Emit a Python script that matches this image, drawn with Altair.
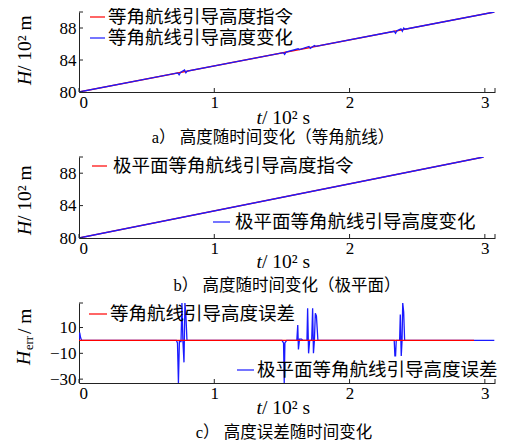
import altair as alt
import pandas as pd

# ---------------- data ----------------
# panel a: rhumb-line guidance altitude (x100 s, x100 m)
a_cmd_t = [0.0, 3.07]
a_cmd_h = [80.0, 90.0]
a_act_t = [0.0, 0.73, 0.74, 0.75, 0.78, 0.79, 0.80, 1.51, 1.52, 1.53, 1.62, 1.63,
           1.70, 1.71, 1.74, 1.75, 2.33, 2.34, 2.35, 2.38, 2.39, 2.40, 2.41, 3.07]
a_act_h = [80.0, 82.38, 82.15, 82.44, 82.75, 82.40, 82.61, 84.92, 84.70, 84.98, 85.40, 85.31,
           85.70, 85.45, 85.82, 85.70, 87.59, 87.35, 87.65, 87.90, 87.60, 88.00, 87.85, 90.0]

# panel b: polar-plane rhumb-line guidance altitude
b_cmd_t = [0.0, 2.99]
b_cmd_h = [80.0, 90.0]
b_act_t = [0.0, 2.99]
b_act_h = [80.0, 90.0]

# panel c: altitude error (m)
c_cmd_t = [0.0, 2.92]
c_cmd_e = [0.0, 0.0]
c_act_t = [0.0, 0.005, 0.012, 0.02,
           0.72, 0.728, 0.735, 0.742, 0.754, 0.761, 0.768, 0.776, 0.783, 0.79, 0.798, 0.835,
           1.50, 1.512, 1.517, 1.522, 1.535,
           1.61, 1.617, 1.622, 1.63, 1.645, 1.655,
           1.685, 1.69, 1.697, 1.705, 1.72, 1.727, 1.733, 1.74, 1.747, 1.755, 1.766,
           2.33, 2.335, 2.34, 2.345, 2.37, 2.375, 2.382, 2.388, 2.393, 2.40, 2.407,
           3.07]
c_act_e = [0, 6, 2, 0,
           0, -2, -33, -1, -1, 29, 0, -17, 29, 20, 0, 0,
           0, -2, -33, -2, 0,
           0, 12, -7, 1, 1, 0,
           0, 25, -10, 0, 0, 25, -10, 0, 21, 19, 0,
           0, -12, -12, 0, 0, 20, -12, 0, 29, 22, 0,
           0]

x_ticks = [0, 1, 2, 3]
x_max = 3.075
h_ticks = [80, 84, 88]
h_dom = [80, 90]
e_ticks = [-30, -10, 10]
e_dom = [-33, 29]

legend_a = ["等角航线引导高度指令", "等角航线引导高度变化"]
legend_b = ["极平面等角航线引导高度指令", "极平面等角航线引导高度变化"]
legend_c = ["等角航线引导高度误差", "极平面等角航线引导高度误差"]
captions = ["a） 高度随时间变化（等角航线）", "b） 高度随时间变化（极平面）", "c） 高度误差随时间变化"]

RED = "#ff0000"
BLUE = "#1a1aff"
SERIF = "Liberation Serif"
CJK = "Noto Sans CJK SC"
W = 416
ONE = alt.Data(values=[{}])


def txt(s, x, y, size, font, angle=0, align="center", style="normal"):
    return alt.Chart(ONE).mark_text(
        text=s, font=font, fontSize=size, align=align, baseline="middle",
        angle=angle, fontStyle=style, color="black"
    ).encode(x=alt.value(x), y=alt.value(y))


def leg_entry(label, color, x0, x1, y, tx):
    r = alt.Chart(ONE).mark_rule(color=color, strokeWidth=1.2).encode(
        x=alt.value(x0), x2=alt.value(x1), y=alt.value(y))
    t = txt(label, tx, y, 18.5, CJK, align="left")
    return [r, t]


def panel(H, ydom, yticks, series, legends, ytitle, xt_y, cap, cap_x, cap_y):
    xs = alt.Scale(domain=[0, x_max], nice=False, zero=False)
    ys = alt.Scale(domain=ydom, nice=False, zero=False)
    xax = alt.Axis(values=x_ticks, title=None, format="d")
    yax = alt.Axis(values=yticks, title=None, format="d")
    layers = []
    for (t, v, color) in series:
        df = pd.DataFrame({"t": t, "v": v})
        layers.append(alt.Chart(df).mark_line(color=color, strokeWidth=1.3, clip=True)
                      .encode(x=alt.X("t:Q", scale=xs, axis=xax),
                              y=alt.Y("v:Q", scale=ys, axis=yax)))
    # inward tick marks (MATLAB style)
    xt = pd.DataFrame({"t": x_ticks + [x_max]})
    layers.append(alt.Chart(xt).mark_rule(color="#222", strokeWidth=1).encode(
        x=alt.X("t:Q", scale=xs, axis=xax), y=alt.value(H), y2=alt.value(H - 4)))
    yt = pd.DataFrame({"v": yticks + [ydom[1]]})
    layers.append(alt.Chart(yt).mark_rule(color="#222", strokeWidth=1).encode(
        y=alt.Y("v:Q", scale=ys, axis=yax), x=alt.value(0), x2=alt.value(4)))
    # legends
    for lg in legends:
        layers += leg_entry(*lg)
    # y title
    layers += ytitle
    # x title
    layers.append(txt("t", 183, H + xt_y, 19.5, SERIF, align="right", style="italic"))
    layers.append(txt(" / 10²  s", 183, H + xt_y, 19.5, SERIF, align="left"))
    # caption
    layers.append(txt(cap, cap_x, H + cap_y, 16.5, SERIF + ", " + CJK))
    return alt.layer(*layers).properties(width=W, height=H)


def h_title(anchor):
    return [txt("H", -54, anchor, 19.5, SERIF, angle=270, align="right", style="italic"),
            txt(" / 10²  m", -54, anchor, 19.5, SERIF, angle=270, align="left")]


pa = panel(80, h_dom, h_ticks,
           [(a_cmd_t, a_cmd_h, RED), (a_act_t, a_act_h, BLUE)],
           [(legend_a[0], RED, 11, 26, 5, 29), (legend_a[1], BLUE, 11, 26, 26, 29)],
           h_title(59), 26, captions[0], 194, 46)

pb = panel(81, h_dom, h_ticks,
           [(b_cmd_t, b_cmd_h, RED), (b_act_t, b_act_h, BLUE)],
           [(legend_b[0], RED, 13, 28, 9, 34), (legend_b[1], BLUE, 134, 151, 65, 156)],
           h_title(64), 24, captions[1], 208, 48)

c_title = [txt("H", -55, 48, 19.5, SERIF, angle=270, align="right", style="italic"),
           txt("err", -50, 47, 12.5, SERIF, angle=270, align="left"),
           txt(" / m", -54, 31, 19.5, SERIF, angle=270, align="left")]

pc = panel(80, e_dom, e_ticks,
           [(c_act_t, c_act_e, BLUE), (c_cmd_t, c_cmd_e, RED)],
           [(legend_c[0], RED, 10, 28, 11, 31), (legend_c[1], BLUE, 158, 175, 67, 178)],
           c_title, 25, captions[2], 205, 50)

chart = alt.vconcat(pa, pb, pc, spacing=65, bounds="flush").properties(
    padding={"left": 6, "top": 0, "right": 0, "bottom": 0}
).configure_view(stroke=None).configure_axis(
    grid=False, ticks=False, domainColor="#222", domainWidth=1,
    labelFont=SERIF, labelFontSize=17, labelColor="black", labelPadding=2
).configure_axisY(labelPadding=3)

chart.save("out.html", embed_options={"renderer": "svg", "actions": False})
